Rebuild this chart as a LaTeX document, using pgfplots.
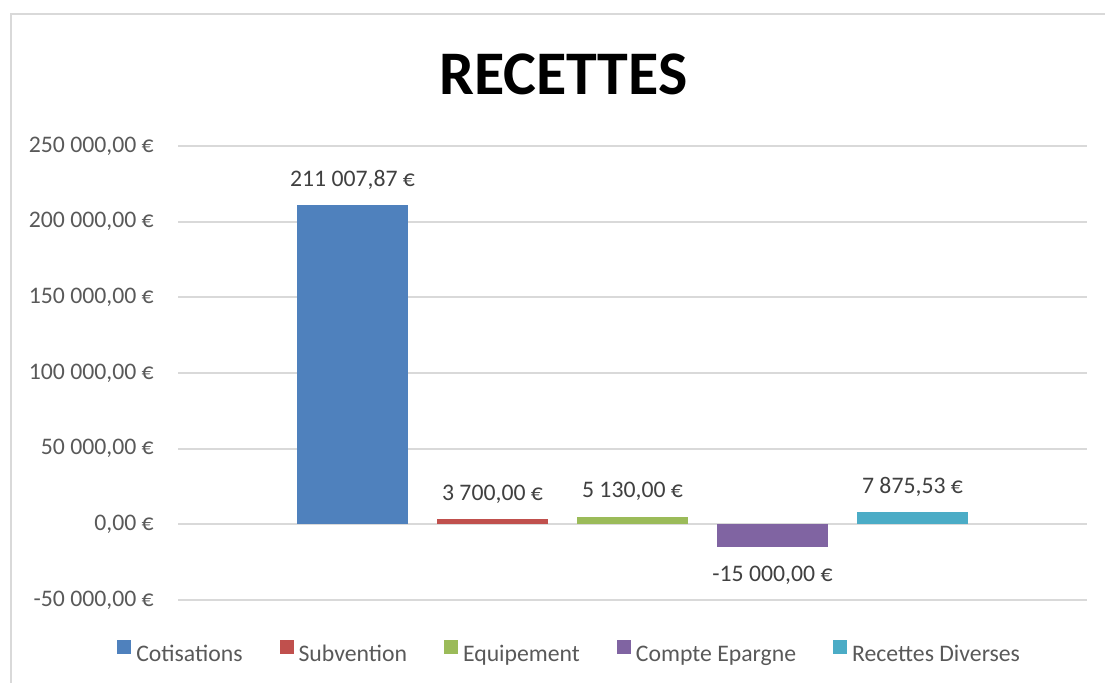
\documentclass[border=0pt]{standalone}
\usepackage{fontspec}
\setmainfont{Carlito}
\usepackage{pgfplots}
\pgfplotsset{compat=1.18}

\definecolor{c1}{HTML}{4F81BD}
\definecolor{c2}{HTML}{C0504D}
\definecolor{c3}{HTML}{9BBB59}
\definecolor{c4}{HTML}{8064A2}
\definecolor{c5}{HTML}{4BACC6}
\definecolor{gridc}{HTML}{D9D9D9}
\definecolor{tickc}{HTML}{595959}
\definecolor{labc}{HTML}{404040}

\newcommand{\lbl}{\fontsize{17.8}{20}\selectfont}

\pgfplotsset{
  mybar/.style={ybar, bar width=83.25pt, bar shift=0pt, draw=none, fill=#1,
    legend image code/.code={\fill[#1] (0pt,0pt) rectangle (10.5pt,10.5pt);}},
  up/.style={nodes near coords={#1},
    every node near coord/.append style={font=\lbl, text=labc, anchor=base, yshift=14pt}},
  down/.style={nodes near coords={#1},
    every node near coord/.append style={font=\lbl, text=labc, anchor=base, yshift=-26pt}},
}

\begin{document}
\begin{tikzpicture}[x=1pt,y=1pt]
\useasboundingbox (0,0) rectangle (828.75,511.5);
\draw[gridc, line width=1.2pt] (8.25,-5) -- (8.25,501) -- (835,501);
\node[anchor=base, font=\fontsize{46.5}{50}\selectfont\bfseries] at (422.6,440.25) {RECETTES};

\begin{axis}[
  at={(133.5pt,61.5pt)}, anchor=south west,
  scale only axis, width=681.75pt, height=340.5pt,
  xmin=-1.2464, xmax=5.2464,
  ymin=-50000, ymax=250000,
  xtick=\empty,
  scaled y ticks=false,
  ytick={-50000,0,50000,100000,150000,200000,250000},
  yticklabels={-50 000\mbox{,}00 €, 0\mbox{,}00 €, 50 000\mbox{,}00 €, 100 000\mbox{,}00 €,
               150 000\mbox{,}00 €, 200 000\mbox{,}00 €, 250 000\mbox{,}00 €},
  yticklabel style={font=\lbl, text=tickc, anchor=east, inner sep=0pt, xshift=-18pt},
  major tick length=0pt,
  axis line style={draw=none},
  ymajorgrids, grid style={gridc, line width=1.4pt},
  clip=false,
  legend columns=5,
  legend style={at={(-0.0671,-0.1145)}, anchor=west, draw=none, fill=none,
    inner sep=0pt, font=\lbl, text=tickc,
    nodes={inner sep=0pt},
    /tikz/every odd column/.append style={column sep=3.75pt},
    /tikz/every even column/.append style={column sep=27.75pt}},
]
\addplot[mybar=c1, up={211 007,87 €}] coordinates {(0,211007.87)};
\addlegendentry{Cotisations}
\addplot[mybar=c2, up={3 700,00 €}] coordinates {(1,3700)};
\addlegendentry{Subvention}
\addplot[mybar=c3, up={5 130,00 €}] coordinates {(2,5130)};
\addlegendentry{Equipement}
\addplot[mybar=c4, down={-15 000,00 €}] coordinates {(3,-15000)};
\addlegendentry{Compte Epargne}
\addplot[mybar=c5, up={7 875,53 €}] coordinates {(4,7875.53)};
\addlegendentry{Recettes Diverses}
\end{axis}
\end{tikzpicture}
\end{document}
